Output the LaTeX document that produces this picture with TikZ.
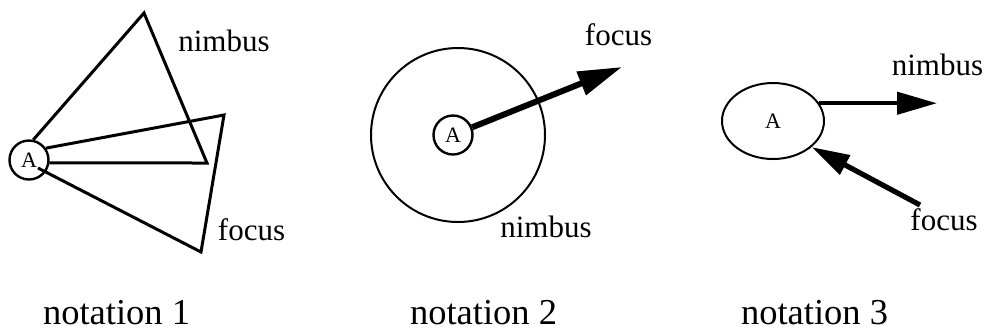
\documentclass[tikz,border=0pt]{standalone}
\usepackage{fontspec}
\setmainfont{Liberation Serif}
\usetikzlibrary{arrows.meta,shapes.geometric}

\begin{document}
\begin{tikzpicture}[x=0.5pt,y=-0.5pt,
  lbl/.style={anchor=base,inner sep=0pt,font=\fontsize{15.5}{18}\selectfont},
  ttl/.style={anchor=base,inner sep=0pt,font=\fontsize{18.25}{22}\selectfont},
  agent/.style={circle,draw,line width=1.2pt,minimum size=19.5pt,inner sep=0pt,font=\fontsize{11}{13}\selectfont}]
\useasboundingbox (0,0) rectangle (986,329);
\node[agent] (A1) at (29,160) {A};
\coordinate (n1a) at (144,13);
\coordinate (n1b) at (207,163);
\coordinate (f1a) at (224,115);
\coordinate (f1b) at (201,252);
\coordinate (f1end) at (38,168);
\draw[line width=1.5pt] (A1.78) -- (n1a) -- (n1b) -- (A1.-8);
\draw[line width=1.5pt] (A1.35) -- (f1a) -- (f1b) -- (f1end);
\node[lbl] (nim1) at (224,51.7) {nimbus};
\node[lbl] (foc1) at (251.5,240) {focus};
\node[circle,draw,line width=1pt,minimum size=87pt] (N2) at (458,135) {};
\node[agent] (A2) at (453,135) {A};
\coordinate (f2tip) at (622,67);
\draw[line width=3pt,-{Triangle[length=22pt,width=12pt]}] (A2) -- (f2tip);
\node[lbl] (nim2) at (546,237) {nimbus};
\node[lbl] (foc2) at (618.5,45) {focus};
\node[ellipse,draw,line width=1pt,minimum width=51pt,minimum height=38pt,inner sep=0pt,font=\fontsize{11}{13}\selectfont] (E3) at (773,121) {A};
\coordinate (n3tip) at (E3.21 -| 937,0);
\coordinate (f3tail) at (920,205);
\draw[line width=2.2pt,-{Triangle[length=20pt,width=11pt]}] (E3.21) -- (n3tip);
\draw[line width=2.6pt,-{Triangle[length=19pt,width=10.5pt]}] (f3tail) -- (E3.-34);
\node[lbl] (nim3) at (937.5,75) {nimbus};
\node[lbl] (foc3) at (944,230) {focus};
\node[ttl] (t1) at (116.5,324) {notation 1};
\node[ttl] (t2) at (483.5,324) {notation 2};
\node[ttl] (t3) at (814.5,324) {notation 3};
\end{tikzpicture}
\end{document}
